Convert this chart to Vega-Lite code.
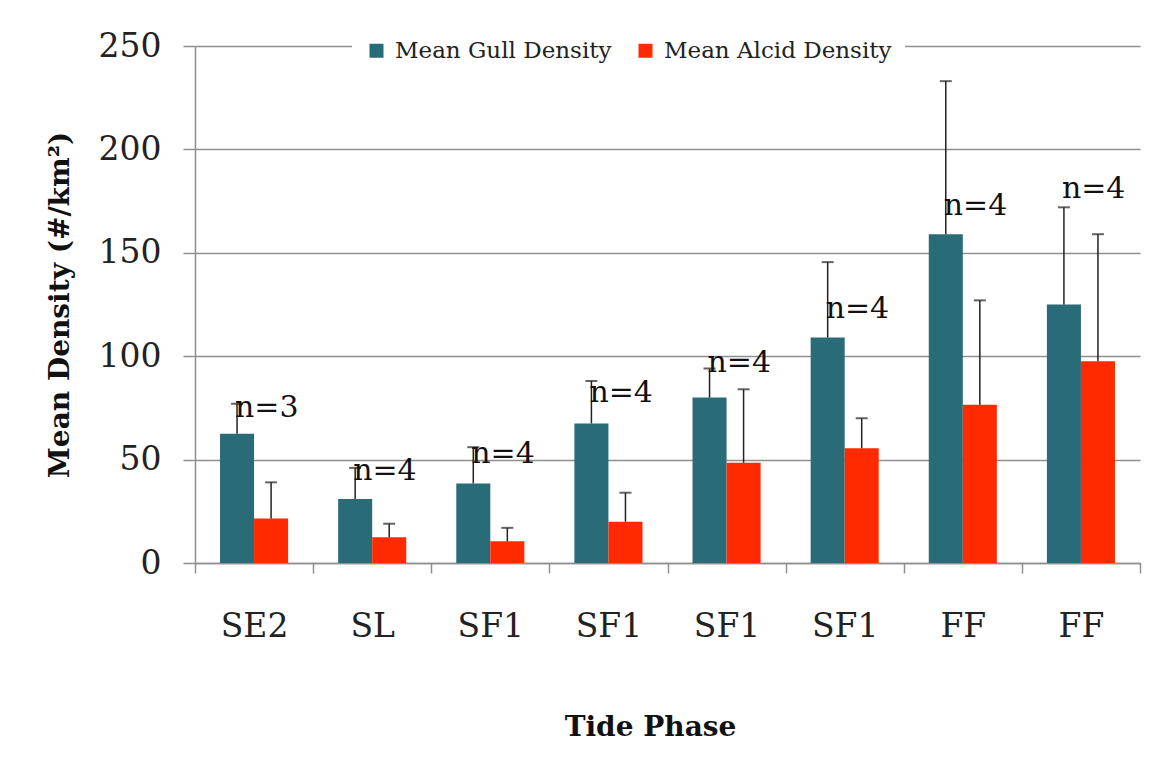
{
  "$schema": "https://vega.github.io/schema/vega-lite/v6.json",
  "width": 945,
  "height": 517,
  "autosize": {"type": "none"},
  "padding": {"left": 195, "top": 46, "right": 31, "bottom": 201},
  "background": "white",
  "config": {
    "view": {"stroke": null},
    "axis": {"labelFont": "DejaVu Serif", "titleFont": "DejaVu Serif", "labelColor": "#222", "titleColor": "#111"}
  },
  "datasets": {
    "bars": [
      {"site": "1|SE2", "series": "Mean Gull Density", "value": 62.5, "upper": 77},
      {"site": "1|SE2", "series": "Mean Alcid Density", "value": 21.5, "upper": 39},
      {"site": "2|SL", "series": "Mean Gull Density", "value": 31, "upper": 46},
      {"site": "2|SL", "series": "Mean Alcid Density", "value": 12.5, "upper": 19},
      {"site": "3|SF1", "series": "Mean Gull Density", "value": 38.5, "upper": 56},
      {"site": "3|SF1", "series": "Mean Alcid Density", "value": 10.5, "upper": 17},
      {"site": "4|SF1", "series": "Mean Gull Density", "value": 67.5, "upper": 88},
      {"site": "4|SF1", "series": "Mean Alcid Density", "value": 20, "upper": 34},
      {"site": "5|SF1", "series": "Mean Gull Density", "value": 80, "upper": 94},
      {"site": "5|SF1", "series": "Mean Alcid Density", "value": 48.5, "upper": 84},
      {"site": "6|SF1", "series": "Mean Gull Density", "value": 109, "upper": 145.5},
      {"site": "6|SF1", "series": "Mean Alcid Density", "value": 55.5, "upper": 70},
      {"site": "7|FF", "series": "Mean Gull Density", "value": 159, "upper": 233},
      {"site": "7|FF", "series": "Mean Alcid Density", "value": 76.5, "upper": 127},
      {"site": "8|FF", "series": "Mean Gull Density", "value": 125, "upper": 172},
      {"site": "8|FF", "series": "Mean Alcid Density", "value": 97.5, "upper": 159}
    ],
    "labels": [
      {"site": "1|SE2", "series": "Mean Gull Density", "n": "n=3", "label_y": 70.6},
      {"site": "2|SL", "series": "Mean Gull Density", "n": "n=4", "label_y": 40.1},
      {"site": "3|SF1", "series": "Mean Gull Density", "n": "n=4", "label_y": 48.4},
      {"site": "4|SF1", "series": "Mean Gull Density", "n": "n=4", "label_y": 77.9},
      {"site": "5|SF1", "series": "Mean Gull Density", "n": "n=4", "label_y": 92.4},
      {"site": "6|SF1", "series": "Mean Gull Density", "n": "n=4", "label_y": 118.5},
      {"site": "7|FF", "series": "Mean Gull Density", "n": "n=4", "label_y": 168.3},
      {"site": "8|FF", "series": "Mean Gull Density", "n": "n=4", "label_y": 176.5}
    ]
  },
  "encoding": {
    "x": {
      "field": "site", "type": "nominal", "sort": null,
      "scale": {"paddingInner": 0, "paddingOuter": 0},
      "axis": {
        "title": "Tide Phase", "labelExpr": "split(datum.label, '|')[1]", "labelAngle": 0,
        "tickBand": "extent", "tickSize": 10, "tickColor": "#8f8f8f", "tickWidth": 1.5,
        "domainColor": "#8f8f8f", "domainWidth": 1.5,
        "labelFontSize": 33, "labelPadding": 37,
        "titleFontSize": 28, "titleFontWeight": "bold", "titlePadding": 70, "titleX": 455
      }
    },
    "xOffset": {
      "field": "series", "type": "nominal", "sort": ["Mean Gull Density", "Mean Alcid Density"],
      "scale": {"paddingOuter": 0.735, "paddingInner": 0}
    }
  },
  "layer": [
    {
      "data": {"name": "bars"},
      "mark": {"type": "bar"},
      "encoding": {
        "y": {
          "field": "value", "type": "quantitative",
          "scale": {"domain": [0, 250], "nice": false},
          "axis": {
            "title": "Mean Density (#/km²)", "values": [0, 50, 100, 150, 200, 250],
            "grid": true, "gridColor": "#8f8f8f", "gridWidth": 1.5,
            "tickSize": 12, "tickColor": "#8f8f8f", "tickWidth": 1.5,
            "domainColor": "#8f8f8f", "domainWidth": 1.5,
            "labelFontSize": 33, "labelPadding": 22,
            "titleFontSize": 28, "titleFontWeight": "bold", "titlePadding": 24
          }
        },
        "color": {
          "field": "series", "type": "nominal",
          "sort": ["Mean Gull Density", "Mean Alcid Density"],
          "scale": {"domain": ["Mean Gull Density", "Mean Alcid Density"], "range": ["#2a6b78", "#ff2a00"]},
          "legend": {
            "title": null, "orient": "none", "direction": "horizontal",
            "legendX": 157, "legendY": -20,
            "fillColor": "white", "padding": 13,
            "symbolType": "square", "symbolSize": 196, "symbolStrokeWidth": 0,
            "labelFont": "DejaVu Serif", "labelFontSize": 23, "labelColor": "#222", "labelLimit": 500,
            "labelOffset": 7, "columnPadding": 22
          }
        }
      }
    },
    {
      "data": {"name": "bars"},
      "mark": {"type": "rule", "color": "#222", "strokeWidth": 1.5},
      "encoding": {
        "y": {"field": "value", "type": "quantitative", "title": "Mean Density (#/km²)"},
        "y2": {"field": "upper"}
      }
    },
    {
      "data": {"name": "bars"},
      "mark": {"type": "tick", "color": "#222", "thickness": 2, "size": 12},
      "encoding": {
        "y": {"field": "upper", "type": "quantitative", "title": "Mean Density (#/km²)"}
      }
    },
    {
      "data": {"name": "labels"},
      "mark": {"type": "text", "align": "left", "baseline": "alphabetic", "font": "DejaVu Serif", "fontSize": 30, "color": "#111", "dx": -2},
      "encoding": {
        "y": {"field": "label_y", "type": "quantitative", "title": "Mean Density (#/km²)"},
        "text": {"field": "n"}
      }
    }
  ]
}
